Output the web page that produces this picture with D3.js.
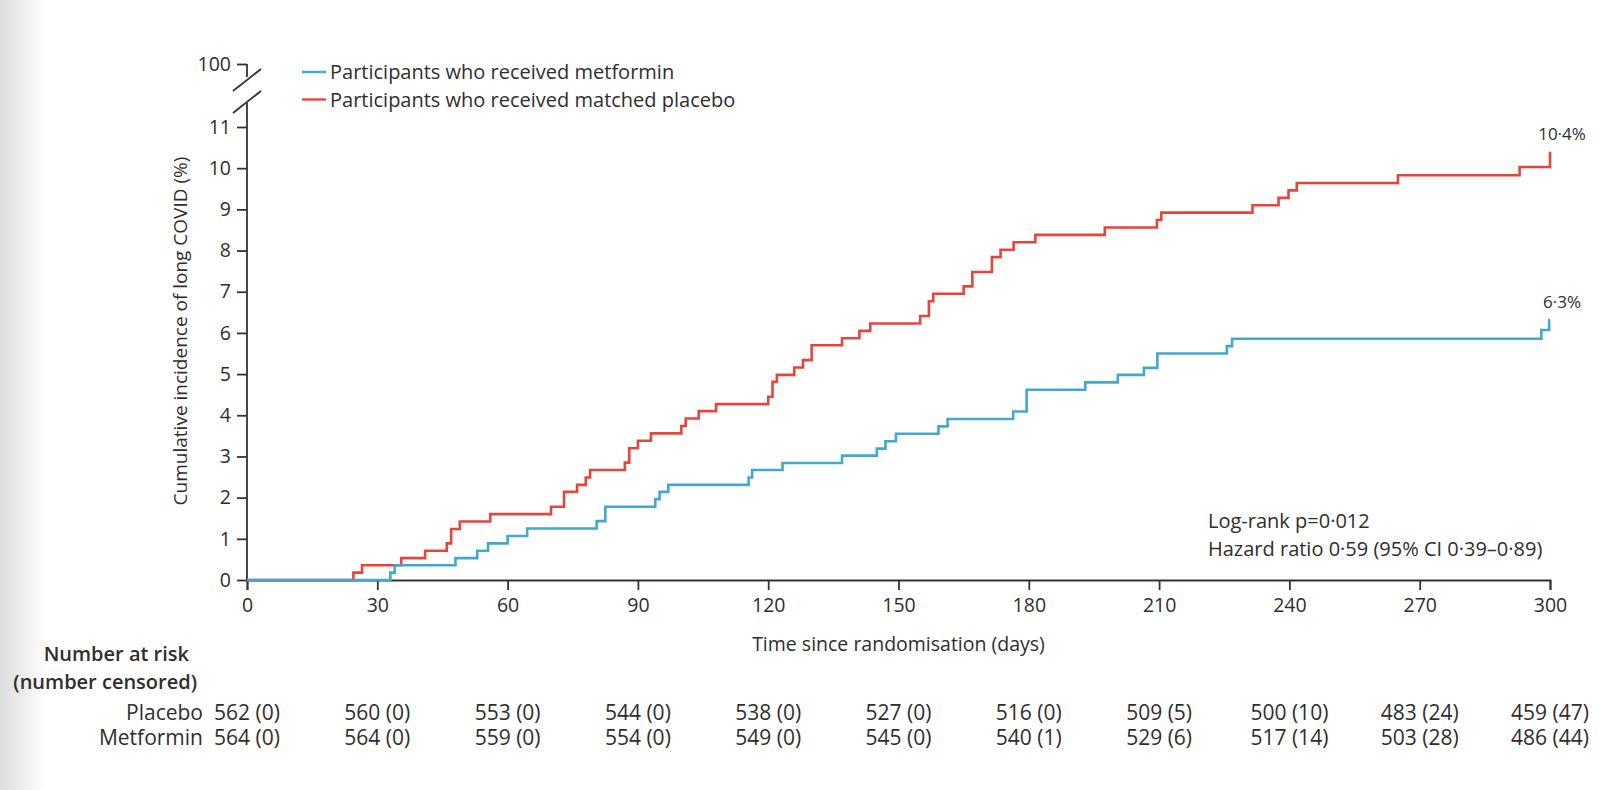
<!DOCTYPE html>
<html>
<head>
<meta charset="utf-8">
<script src="https://cdn.jsdelivr.net/npm/d3@7"></script>
<style>
  html, body { margin: 0; padding: 0; background: #ffffff; }
  svg { display: block; }
  text { font-family: "Open Sans", "Noto Sans", sans-serif; fill: #2e2e2e; }
</style>
</head>
<body>
<svg id="chart" width="1602" height="790"></svg>
<script>
// ---------------- DATA ----------------
const xTicks = [0, 30, 60, 90, 120, 150, 180, 210, 240, 270, 300];
const yTicks = [0, 1, 2, 3, 4, 5, 6, 7, 8, 9, 10, 11];
const yBreakTick = [100];

// Placebo (red) step function: day at which cumulative incidence (%) changes
const placeboDays = [0, 24.5, 26.5, 35.5, 41, 46, 47, 49, 56, 70, 73, 76, 78, 79, 87, 88, 90, 93, 100, 101, 104, 108,
  120, 121, 122, 126, 128, 130, 137, 141, 143.5, 155, 157, 158, 165, 167, 171.5, 173.5, 176.5, 181.5,
  197.5, 209.5, 210.5, 231.5, 237.5, 239.8, 241.7, 265, 293, 300];
const placeboPct = [0, 0.18, 0.36, 0.53, 0.71, 0.89, 1.24, 1.42, 1.60, 1.78, 2.14, 2.31, 2.49, 2.67, 2.85, 3.20, 3.38, 3.56, 3.74, 3.92, 4.10, 4.27,
  4.45, 4.81, 4.98, 5.16, 5.34, 5.70, 5.87, 6.05, 6.23, 6.41, 6.77, 6.95, 7.13, 7.48, 7.84, 8.02, 8.20, 8.38,
  8.56, 8.74, 8.92, 9.10, 9.28, 9.46, 9.64, 9.83, 10.03, 10.4];

// Metformin (blue)
const metforminDays = [0, 33, 34, 48, 53, 55.5, 60, 64.5, 80.5, 82.5, 94, 95, 97, 115.5, 116.3, 123.3, 137, 145, 147, 149.4,
  159.2, 161.3, 176.4, 179.5, 193, 200.5, 206.5, 209.6, 225.6, 226.8, 298, 299.8, 300];
const metforminPct = [0, 0.18, 0.36, 0.53, 0.71, 0.89, 1.07, 1.25, 1.43, 1.78, 1.96, 2.14, 2.31, 2.49, 2.67, 2.84, 3.02, 3.19, 3.37, 3.55,
  3.73, 3.91, 4.09, 4.62, 4.80, 4.98, 5.15, 5.50, 5.68, 5.86, 6.07, 6.31, 6.31];

const seriesNames = ["Participants who received metformin", "Participants who received matched placebo"];
const endLabels = ["6\u00b73%", "10\u00b74%"];
const statLines = ["Log-rank p=0\u00b7012", "Hazard ratio 0\u00b759 (95% CI 0\u00b739\u20130\u00b789)"];

const riskGroups = ["Placebo", "Metformin"];
const riskPlacebo = ["562 (0)", "560 (0)", "553 (0)", "544 (0)", "538 (0)", "527 (0)", "516 (0)", "509 (5)", "500 (10)", "483 (24)", "459 (47)"];
const riskMetformin = ["564 (0)", "564 (0)", "559 (0)", "554 (0)", "549 (0)", "545 (0)", "540 (1)", "529 (6)", "517 (14)", "503 (28)", "486 (44)"];

// ---------------- STYLE / LAYOUT ----------------
const RED = "#e5453d";
const BLUE = "#43a9cc";
const AXIS = "#333333";
const TICK_FS = 19.5;
const LEG_FS = 20;
const TBL_FS = 21;

const svg = d3.select("#chart");

// soft grey left edge
const defs = svg.append("defs");
const grad = defs.append("linearGradient").attr("id", "edge").attr("x1", "0").attr("x2", "1").attr("y1", "0").attr("y2", "0");
grad.append("stop").attr("offset", "0%").attr("stop-color", "#dcdcdc");
grad.append("stop").attr("offset", "100%").attr("stop-color", "#ffffff");
svg.append("rect").attr("x", 0).attr("y", 0).attr("width", 48).attr("height", 790).attr("fill", "url(#edge)");

const x = d3.scaleLinear().domain([0, 300]).range([247, 1550]);
const y = d3.scaleLinear().domain([0, 11]).range([580, 127]);
const yTop = d3.scaleLinear().domain([100, 101]).range([64, 50]);

function styleAxis(g) {
  g.selectAll(".tick line").attr("stroke", AXIS).attr("stroke-width", 1.8);
  g.selectAll(".tick text").attr("font-size", TICK_FS).attr("font-family", "Open Sans").attr("fill", "#2e2e2e");
}

// x axis
const gx = svg.append("g").attr("transform", `translate(0,${y(0)})`)
  .call(d3.axisBottom(x).tickValues(xTicks).tickSize(10).tickPadding(8).tickFormat(d3.format("d")));
gx.select(".domain").attr("stroke", AXIS).attr("stroke-width", 1.8);
styleAxis(gx);

// y axis (lower part)
const gy = svg.append("g").attr("transform", `translate(${x(0)},0)`)
  .call(d3.axisLeft(y).tickValues(yTicks).tickSize(10).tickPadding(6).tickFormat(d3.format("d")));
gy.select(".domain").remove();
styleAxis(gy);

// y axis (above the break)
const gyTop = svg.append("g").attr("transform", `translate(${x(0)},0)`)
  .call(d3.axisLeft(yTop).tickValues(yBreakTick).tickSize(10).tickPadding(6).tickFormat(d3.format("d")));
gyTop.select(".domain").remove();
styleAxis(gyTop);

// axis line segments with break
const ax = x(0);
const brk = svg.append("g").attr("stroke", AXIS).attr("stroke-width", 1.8).attr("fill", "none");
brk.append("line").attr("x1", ax).attr("x2", ax).attr("y1", y(0)).attr("y2", 103);
brk.append("line").attr("x1", ax).attr("x2", ax).attr("y1", yTop(100)).attr("y2", 77);
brk.append("line").attr("x1", ax - 14).attr("y1", 91).attr("x2", ax + 14).attr("y2", 69);
brk.append("line").attr("x1", ax - 14).attr("y1", 113).attr("x2", ax + 14).attr("y2", 91);

// axis titles
svg.append("text").attr("x", (x(0) + x(300)) / 2).attr("y", 651).attr("text-anchor", "middle")
  .attr("font-size", TICK_FS).text("Time since randomisation (days)");
svg.append("text").attr("transform", `translate(180,331) rotate(-90)`).attr("text-anchor", "middle")
  .attr("dy", "0.35em").attr("font-size", 19).text("Cumulative incidence of long COVID (%)");

// curves
const line = d3.line().curve(d3.curveStepAfter).x(d => x(d[0])).y(d => y(d[1]));
const placebo = d3.zip(placeboDays, placeboPct);
const metformin = d3.zip(metforminDays, metforminPct);
svg.append("path").datum(placebo).attr("d", line).attr("fill", "none").attr("stroke", RED).attr("stroke-width", 2.6);
svg.append("path").datum(metformin).attr("d", line).attr("fill", "none").attr("stroke", BLUE).attr("stroke-width", 2.6);

// end labels
svg.append("text").attr("x", x(300) + 12).attr("y", y(placeboPct[placeboPct.length - 1]) - 12)
  .attr("text-anchor", "middle").attr("font-size", 17).text(endLabels[1]);
svg.append("text").attr("x", x(300) + 12).attr("y", y(metforminPct[metforminPct.length - 1]) - 12)
  .attr("text-anchor", "middle").attr("font-size", 17).text(endLabels[0]);

// legend
const legend = svg.append("g");
const legColors = [BLUE, RED];
seriesNames.forEach((name, i) => {
  const ly = 72 + i * 27.5;
  legend.append("line").attr("x1", 302).attr("x2", 326).attr("y1", ly).attr("y2", ly)
    .attr("stroke", legColors[i]).attr("stroke-width", 2.4);
  legend.append("text").attr("x", 330).attr("y", ly).attr("dy", "0.35em").attr("font-size", LEG_FS).text(name);
});

// statistics
statLines.forEach((s, i) => {
  svg.append("text").attr("x", 1208).attr("y", 528 + i * 28).attr("font-size", LEG_FS).text(s);
});

// risk table
svg.append("text").attr("x", 189).attr("y", 661).attr("text-anchor", "end").attr("font-size", 20)
  .attr("font-weight", 600).text("Number at risk");
svg.append("text").attr("x", 197).attr("y", 689).attr("text-anchor", "end").attr("font-size", 20)
  .attr("font-weight", 600).text("(number censored)");
const riskRows = [riskPlacebo, riskMetformin];
riskGroups.forEach((g, i) => {
  const ry = 720 + i * 25;
  svg.append("text").attr("x", 203).attr("y", ry).attr("text-anchor", "end").attr("font-size", TBL_FS).text(g);
  svg.append("g").selectAll("text").data(riskRows[i]).join("text")
    .attr("x", (d, j) => x(xTicks[j])).attr("y", ry).attr("text-anchor", "middle").attr("font-size", TBL_FS).text(d => d);
});
</script>
</body>
</html>
